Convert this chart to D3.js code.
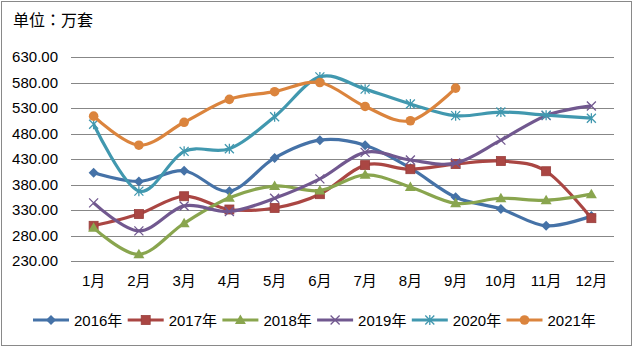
<!DOCTYPE html>
<html>
<head>
<meta charset="utf-8">
<script src="https://cdn.jsdelivr.net/npm/d3@7/dist/d3.min.js"></script>
<style>
  body { margin: 0; background: #fff; }
  text { font-family: "Liberation Sans", "Noto Sans CJK SC", sans-serif; fill: #000; }
</style>
</head>
<body>
<div id="chart"></div>
<script>
// Monthly sales, unit: 万套
const months = ["1月", "2月", "3月", "4月", "5月", "6月", "7月", "8月", "9月", "10月", "11月", "12月"];
const yTicks = [230, 280, 330, 380, 430, 480, 530, 580, 630];
const years = ["2016年", "2017年", "2018年", "2019年", "2020年", "2021年"];
const v2016 = [403, 386, 407, 367, 432, 467, 457, 412, 355, 332, 299, 318];
const v2017 = [299, 322, 357, 331, 334, 361, 418, 410, 420, 426, 406, 314];
const v2018 = [295, 243, 304, 354, 377, 368, 399, 375, 343, 353, 349, 361];
const v2019 = [344, 289, 338, 327, 353, 391, 443, 428, 422, 467, 515, 534];
const v2020 = [498, 367, 445, 450, 513, 591, 567, 538, 515, 522, 516, 510];
const v2021 = [514, 457, 502, 547, 562, 580, 533, 505, 569];

const colors = ["#4572A7", "#AA4643", "#89A54E", "#71588F", "#4198AF", "#DB843D"];
const markers = ["diamond", "square", "triangle", "cross", "asterisk", "circle"];
const series = [v2016, v2017, v2018, v2019, v2020, v2021].map((vals, i) => ({
  name: years[i], values: vals, color: colors[i], marker: markers[i]
}));

const width = 633, height = 347;
const svg = d3.select("#chart").append("svg")
  .attr("width", width)
  .attr("height", height);

// outer frame
svg.append("rect")
  .attr("x", 1.5).attr("y", 1.5)
  .attr("width", width - 3).attr("height", height - 3)
  .attr("fill", "#fff")
  .attr("stroke", "#898989");

svg.append("text")
  .attr("x", 13).attr("y", 26)
  .style("font-family", "'Noto Sans CJK TC', 'Noto Sans CJK SC', sans-serif")
  .style("font-size", "16px")
  .text("单位：万套");

const x = d3.scaleBand().domain(months).range([71, 614]);
const y = d3.scaleLinear().domain([230, 630]).range([261, 57]);

// gridlines
svg.append("g")
  .selectAll("line")
  .data(yTicks)
  .join("line")
  .attr("x1", 71).attr("x2", 614)
  .attr("y1", d => Math.round(y(d)) + 0.5)
  .attr("y2", d => Math.round(y(d)) + 0.5)
  .attr("stroke", "#878787")
  .attr("stroke-width", 1);

// y axis labels
const yAxis = d3.axisLeft(y).tickValues(yTicks).tickFormat(d3.format(".2f")).tickSize(0).tickPadding(13);
const yg = svg.append("g").attr("transform", "translate(71,0)").call(yAxis);
yg.select(".domain").remove();
yg.selectAll("text")
  .style("font-size", "15px")
  .style("font-family", "'Liberation Sans', sans-serif")
  .attr("fill", "#000");

// x axis labels
const xAxis = d3.axisBottom(x).tickSize(0).tickPadding(14);
const xg = svg.append("g").attr("transform", "translate(0,261)").call(xAxis);
xg.select(".domain").remove();
xg.selectAll("text")
  .style("font-size", "15px")
  .style("font-family", "'Liberation Sans', 'Noto Sans CJK SC', sans-serif")
  .attr("fill", "#000");

const cx = (d, i) => x(months[i]) + x.bandwidth() / 2;

const line = d3.line()
  .x((d, i) => cx(d, i))
  .y(d => y(d))
  .curve(d3.curveCardinal.tension(0));

function drawMarker(g, type, color, px, py) {
  if (type === "diamond") {
    g.append("path").attr("d", `M${px},${py - 5}L${px + 5},${py}L${px},${py + 5}L${px - 5},${py}Z`).attr("fill", color);
  } else if (type === "square") {
    g.append("rect").attr("x", px - 4.5).attr("y", py - 4.5).attr("width", 9).attr("height", 9)
      .attr("fill", color).attr("stroke", d3.color(color).darker(0.3)).attr("stroke-width", 0.8);
  } else if (type === "triangle") {
    g.append("path").attr("d", `M${px},${py - 5.5}L${px + 5.5},${py + 4}L${px - 5.5},${py + 4}Z`).attr("fill", color);
  } else if (type === "cross") {
    g.append("path").attr("d", `M${px - 4.5},${py - 4.5}L${px + 4.5},${py + 4.5}M${px + 4.5},${py - 4.5}L${px - 4.5},${py + 4.5}`)
      .attr("stroke", color).attr("stroke-width", 1.3);
  } else if (type === "asterisk") {
    g.append("path").attr("d", `M${px - 4.5},${py - 4.5}L${px + 4.5},${py + 4.5}M${px + 4.5},${py - 4.5}L${px - 4.5},${py + 4.5}M${px},${py - 5}L${px},${py + 5}`)
      .attr("stroke", color).attr("stroke-width", 1.3);
  } else if (type === "circle") {
    g.append("circle").attr("cx", px).attr("cy", py).attr("r", 4.8).attr("fill", color);
  }
}

// series lines with markers
series.forEach(s => {
  const g = svg.append("g");
  g.append("path")
    .datum(s.values)
    .attr("d", line)
    .attr("fill", "none")
    .attr("stroke", s.color)
    .attr("stroke-width", 3.2)
    .attr("stroke-linejoin", "round");
  s.values.forEach((v, i) => drawMarker(g, s.marker, s.color, cx(v, i), y(v)));
});

// legend
const legend = svg.append("g");
series.forEach((s, i) => {
  const lx = 33 + i * 94.7;
  const ly = 320;
  const item = legend.append("g");
  item.append("line")
    .attr("x1", lx).attr("x2", lx + 36)
    .attr("y1", ly).attr("y2", ly)
    .attr("stroke", s.color).attr("stroke-width", 3.2);
  drawMarker(item, s.marker, s.color, lx + 18, ly);
  item.append("text")
    .attr("x", lx + 41).attr("y", ly + 5.5)
    .style("font-size", "15px")
    .text(s.name);
});
</script>
</body>
</html>
